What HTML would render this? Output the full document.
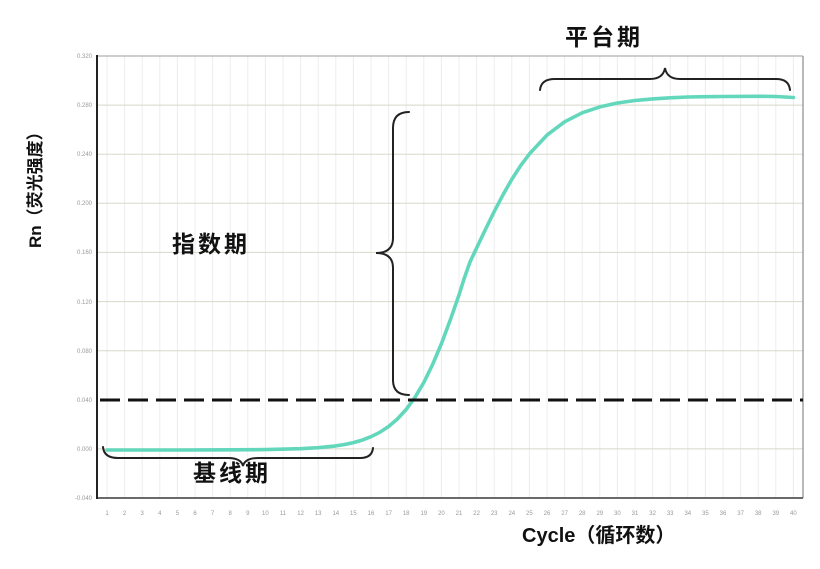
<!DOCTYPE html>
<html>
<head>
<meta charset="utf-8">
<style>
  html,body{margin:0;padding:0;background:#fff;}
  body{width:820px;height:569px;overflow:hidden;}
  svg{display:block;}
  .cjk{font-family:"Liberation Sans","Noto Sans CJK SC",sans-serif;font-weight:bold;fill:#111;}
  .tick{font-family:"Liberation Sans",sans-serif;font-size:6px;fill:#999;}
</style>
</head>
<body>
<svg width="820" height="569" viewBox="0 0 820 569" xmlns="http://www.w3.org/2000/svg">
  <rect x="0" y="0" width="820" height="569" fill="#fff"/>

  <g stroke="#ececec" stroke-width="1">
    <line x1="107" y1="56" x2="107" y2="498"/>
    <line x1="124.6" y1="56" x2="124.6" y2="498"/>
    <line x1="142.2" y1="56" x2="142.2" y2="498"/>
    <line x1="159.8" y1="56" x2="159.8" y2="498"/>
    <line x1="177.4" y1="56" x2="177.4" y2="498"/>
    <line x1="195" y1="56" x2="195" y2="498"/>
    <line x1="212.6" y1="56" x2="212.6" y2="498"/>
    <line x1="230.2" y1="56" x2="230.2" y2="498"/>
    <line x1="247.8" y1="56" x2="247.8" y2="498"/>
    <line x1="265.4" y1="56" x2="265.4" y2="498"/>
    <line x1="283" y1="56" x2="283" y2="498"/>
    <line x1="300.6" y1="56" x2="300.6" y2="498"/>
    <line x1="318.2" y1="56" x2="318.2" y2="498"/>
    <line x1="335.8" y1="56" x2="335.8" y2="498"/>
    <line x1="353.4" y1="56" x2="353.4" y2="498"/>
    <line x1="371" y1="56" x2="371" y2="498"/>
    <line x1="388.6" y1="56" x2="388.6" y2="498"/>
    <line x1="406.2" y1="56" x2="406.2" y2="498"/>
    <line x1="423.8" y1="56" x2="423.8" y2="498"/>
    <line x1="441.4" y1="56" x2="441.4" y2="498"/>
    <line x1="459" y1="56" x2="459" y2="498"/>
    <line x1="476.6" y1="56" x2="476.6" y2="498"/>
    <line x1="494.2" y1="56" x2="494.2" y2="498"/>
    <line x1="511.8" y1="56" x2="511.8" y2="498"/>
    <line x1="529.4" y1="56" x2="529.4" y2="498"/>
    <line x1="547" y1="56" x2="547" y2="498"/>
    <line x1="564.6" y1="56" x2="564.6" y2="498"/>
    <line x1="582.2" y1="56" x2="582.2" y2="498"/>
    <line x1="599.8" y1="56" x2="599.8" y2="498"/>
    <line x1="617.4" y1="56" x2="617.4" y2="498"/>
    <line x1="635" y1="56" x2="635" y2="498"/>
    <line x1="652.6" y1="56" x2="652.6" y2="498"/>
    <line x1="670.2" y1="56" x2="670.2" y2="498"/>
    <line x1="687.8" y1="56" x2="687.8" y2="498"/>
    <line x1="705.4" y1="56" x2="705.4" y2="498"/>
    <line x1="723" y1="56" x2="723" y2="498"/>
    <line x1="740.6" y1="56" x2="740.6" y2="498"/>
    <line x1="758.2" y1="56" x2="758.2" y2="498"/>
    <line x1="775.8" y1="56" x2="775.8" y2="498"/>
    <line x1="793.4" y1="56" x2="793.4" y2="498"/>
  </g>

  <g stroke="#d8d8c8" stroke-width="1">
    <line x1="97" y1="105.1" x2="803" y2="105.1"/>
    <line x1="97" y1="154.2" x2="803" y2="154.2"/>
    <line x1="97" y1="203.3" x2="803" y2="203.3"/>
    <line x1="97" y1="252.4" x2="803" y2="252.4"/>
    <line x1="97" y1="301.6" x2="803" y2="301.6"/>
    <line x1="97" y1="350.7" x2="803" y2="350.7"/>
    <line x1="97" y1="448.9" x2="803" y2="448.9"/>
  </g>

  <line x1="97" y1="56" x2="803" y2="56" stroke="#b0b0b0" stroke-width="1.2"/>
  <line x1="803" y1="56" x2="803" y2="498" stroke="#8a8a8a" stroke-width="1.2"/>
  <line x1="97" y1="498" x2="803" y2="498" stroke="#555" stroke-width="1.8"/>
  <line x1="97" y1="55" x2="97" y2="499" stroke="#222" stroke-width="2"/>

  <g class="tick" text-anchor="end">
    <text x="92" y="58">0.320</text>
    <text x="92" y="107">0.280</text>
    <text x="92" y="156">0.240</text>
    <text x="92" y="205">0.200</text>
    <text x="92" y="254">0.160</text>
    <text x="92" y="304">0.120</text>
    <text x="92" y="353">0.080</text>
    <text x="92" y="402">0.040</text>
    <text x="92" y="451">0.000</text>
    <text x="92" y="500">-0.040</text>
  </g>

  <g class="tick" text-anchor="middle">
    <text x="107" y="515">1</text>
    <text x="124.6" y="515">2</text>
    <text x="142.2" y="515">3</text>
    <text x="159.8" y="515">4</text>
    <text x="177.4" y="515">5</text>
    <text x="195" y="515">6</text>
    <text x="212.6" y="515">7</text>
    <text x="230.2" y="515">8</text>
    <text x="247.8" y="515">9</text>
    <text x="265.4" y="515">10</text>
    <text x="283" y="515">11</text>
    <text x="300.6" y="515">12</text>
    <text x="318.2" y="515">13</text>
    <text x="335.8" y="515">14</text>
    <text x="353.4" y="515">15</text>
    <text x="371" y="515">16</text>
    <text x="388.6" y="515">17</text>
    <text x="406.2" y="515">18</text>
    <text x="423.8" y="515">19</text>
    <text x="441.4" y="515">20</text>
    <text x="459" y="515">21</text>
    <text x="476.6" y="515">22</text>
    <text x="494.2" y="515">23</text>
    <text x="511.8" y="515">24</text>
    <text x="529.4" y="515">25</text>
    <text x="547" y="515">26</text>
    <text x="564.6" y="515">27</text>
    <text x="582.2" y="515">28</text>
    <text x="599.8" y="515">29</text>
    <text x="617.4" y="515">30</text>
    <text x="635" y="515">31</text>
    <text x="652.6" y="515">32</text>
    <text x="670.2" y="515">33</text>
    <text x="687.8" y="515">34</text>
    <text x="705.4" y="515">35</text>
    <text x="723" y="515">36</text>
    <text x="740.6" y="515">37</text>
    <text x="758.2" y="515">38</text>
    <text x="775.8" y="515">39</text>
    <text x="793.4" y="515">40</text>
  </g>

  <polyline fill="none" stroke="#63d7bc" stroke-width="3.6" stroke-linejoin="round" stroke-linecap="round"
    points="107,450 177.4,450 230.2,449.8 265.4,449.6 300.6,448.7 318.2,447.7 335.8,445.9 344.6,444.5 353.4,442.6 362.2,440.1 371,436.7 379.8,432.3 388.6,426.5 397.4,419 406.2,409.4 415,397.3 423.8,382.5 432.6,364.5 441.4,343.7 450.2,320.1 459,295 464,279 470,262 476.6,248 485.4,229.5 494.2,211.6 503,194.8 511.8,179.4 520.6,165.7 529.4,153.9 547,135.1 564.6,121.8 582.2,112.8 599.8,106.9 617.4,103 635,100.5 652.6,98.9 670.2,97.8 687.8,97 705.4,96.7 723,96.5 758.2,96.3 775.8,96.5 793.4,97.5"/>

  <line x1="100" y1="400" x2="803" y2="400" stroke="#111" stroke-width="3" stroke-dasharray="20 8"/>

  <g fill="none" stroke="#222" stroke-width="2" stroke-linecap="round">
    <path d="M540,90 Q541,79 555,79 L650,79 Q663,79 665,68 Q667,79 680,79 L776,79 Q789,79 790,90"/>
    <path d="M409,112 Q393,112 393,128 L393,238 Q393,253 376,253 Q393,253 393,268 L393,380 Q393,395 409,395"/>
    <path d="M103,447 Q104,458 118,458 L228,458 Q241,458 243,466 Q245,458 258,458 L360,458 Q372,458 373,448"/>
  </g>

  <text class="cjk" x="565" y="45" font-size="23" letter-spacing="3">平台期</text>
  <text class="cjk" x="172" y="252" font-size="23" letter-spacing="3">指数期</text>
  <text class="cjk" x="193" y="481" font-size="23" letter-spacing="3">基线期</text>

  <text class="cjk" x="522" y="542" font-size="20">Cycle（循环数）</text>
  <text class="cjk" font-size="17" transform="translate(41,248) rotate(-90)">Rn（荧光强度）</text>
</svg>
</body>
</html>
